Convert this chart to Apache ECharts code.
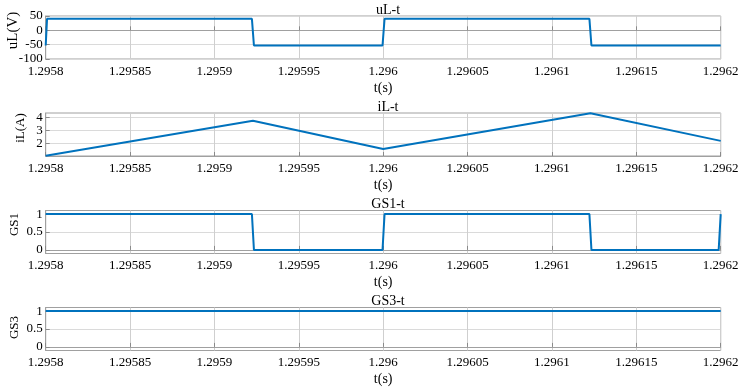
<!DOCTYPE html>
<html>
<head>
<meta charset="utf-8">
<script src="https://cdn.jsdelivr.net/npm/echarts@6/dist/echarts.min.js"></script>
<style>html,body{margin:0;padding:0;background:#fff}#c{width:744px;height:390px}</style>
</head>
<body>
<div id="c"></div>
<script>
// ---- data ----
var xTicks = [1.2958, 1.29585, 1.2959, 1.29595, 1.296, 1.29605, 1.2961, 1.29615, 1.2962];
var panelTitles = ['uL-t', 'iL-t', 'GS1-t', 'GS3-t'];
var yNames = ['uL(V)', 'iL(A)', 'GS1', 'GS3'];

var uL_t = [1.2958, 1.2958008, 1.2959222, 1.2959234, 1.2959996, 1.2960008, 1.2961222, 1.2961234, 1.2962];
var uL_v = [-53, 40, 40, -53, -53, 40, 40, -53, -53];
var uL_ticks = [-100, -50, 0, 50];

var iL_t = [1.2958, 1.2959228, 1.296, 1.2961228, 1.2962];
var iL_v = [1.02, 3.74, 1.55, 4.33, 2.18];
var iL_ticks = [2, 3, 4];

var gs1_t = [1.2958, 1.2959222, 1.2959234, 1.2959996, 1.2960008, 1.2961222, 1.2961234, 1.2961988, 1.2962];
var gs1_v = [1, 1, 0, 0, 1, 1, 0, 0, 1];
var gs_ticks = [0, 0.5, 1];

var gs3_t = [1.2958, 1.2962];
var gs3_v = [1, 1];

// ---- chart ----
var FONT = '"Liberation Serif", "Times New Roman", serif';
var tops = [16, 113, 210.5, 307.5];
var H = 43;
var yRanges = [[-100, 50], [1, 4.35], [-0.1, 1.1], [-0.1, 1.1]];
var yTickSets = [uL_ticks, iL_ticks, gs_ticks, gs_ticks];
var series = [[uL_t, uL_v], [iL_t, iL_v], [gs1_t, gs1_v], [gs3_t, gs3_v]];
var yNamePos = [[13, 30.5], [21, 128], [15, 224.5], [15, 327.5]];
var yNameSize = [15, 13, 13, 13];

function zip(a, b) { return a.map(function (v, i) { return [v, b[i]]; }); }
function fmtX(v) { return String(+(+v).toFixed(6)); }

var option = {
  animation: false,
  backgroundColor: '#fff',
  title: [], grid: [], xAxis: [], yAxis: [], series: [], graphic: []
};

for (var i = 0; i < 4; i++) {
  option.title.push({
    text: panelTitles[i], left: 383, top: tops[i] - 18, textAlign: 'center',
    textStyle: { fontFamily: FONT, fontSize: 14, fontWeight: 'normal', color: '#000' }
  });
  option.grid.push({
    left: 45.7, right: 23.3, top: tops[i], height: H,
    show: true, borderColor: '#a0a0a0', borderWidth: 1, backgroundColor: '#fff'
  });
  option.xAxis.push({
    type: 'value', gridIndex: i, min: 1.2958, max: 1.2962,
    name: 't(s)', nameLocation: 'middle', nameGap: 22,
    nameTextStyle: { fontFamily: FONT, fontSize: 14, color: '#000' },
    axisLine: { show: true, lineStyle: { color: '#a0a0a0', width: 1 } },
    axisTick: { show: true, inside: true, length: 4, customValues: xTicks, lineStyle: { color: '#8a8a8a' } },
    axisLabel: { customValues: xTicks, formatter: fmtX, margin: 6, fontFamily: FONT, fontSize: 13, color: '#000' },
    splitLine: { show: true, lineStyle: { color: '#cfcfcf', width: 1 } }
  });
  option.yAxis.push({
    type: 'value', gridIndex: i, min: yRanges[i][0], max: yRanges[i][1],
    axisLine: { show: true, lineStyle: { color: '#a0a0a0', width: 1 } },
    axisTick: { show: true, inside: true, length: 4, customValues: yTickSets[i], lineStyle: { color: '#8a8a8a' } },
    axisLabel: { customValues: yTickSets[i], margin: 3, fontFamily: FONT, fontSize: 13, color: '#000' },
    splitLine: { show: true, lineStyle: { color: '#dadada', width: 1 } }
  });
  option.series.push({
    type: 'line', xAxisIndex: i, yAxisIndex: i, data: zip(series[i][0], series[i][1]),
    showSymbol: false, symbol: 'none', lineStyle: { color: '#0072BD', width: 2 }, clip: true
  });
  option.graphic.push({
    type: 'text', x: yNamePos[i][0], y: yNamePos[i][1], rotation: Math.PI / 2,
    style: { text: yNames[i], font: yNameSize[i] + 'px ' + FONT, fill: '#000', align: 'center', verticalAlign: 'middle' }
  });
}

var chart = echarts.init(document.getElementById('c'), null, { renderer: 'canvas' });
chart.setOption(option);
</script>
</body>
</html>
